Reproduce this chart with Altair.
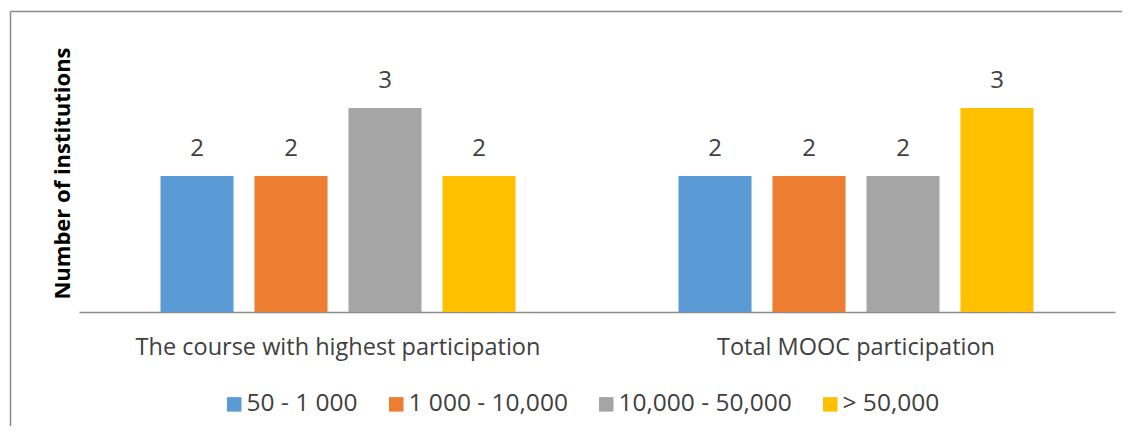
import altair as alt
import pandas as pd

categories = ["The course with highest participation", "Total MOOC participation"]
series = ["50 - 1 000", "1 000 - 10,000", "10,000 - 50,000", "> 50,000"]
values_course = [2, 2, 3, 2]
values_total = [2, 2, 2, 3]
colors = ["#5B9BD5", "#ED7D31", "#A5A5A5", "#FFC000"]

rows = []
for cat, vals in zip(categories, [values_course, values_total]):
    for s, v in zip(series, vals):
        rows.append({"category": cat, "series": s, "value": v})
df = pd.DataFrame(rows)

FONT = "Open Sans"
W, H = 1114, 418

x_enc = alt.X(
    "category:N",
    sort=categories,
    scale=alt.Scale(range=[71, 1107], paddingInner=0, paddingOuter=0),
    axis=alt.Axis(
        title=None,
        orient="bottom",
        offset=-114,
        labelAngle=0,
        labelFont=FONT,
        labelFontSize=23.5,
        labelColor="#404040",
        labelPadding=23,
        labelLimit=0,
        ticks=False,
        domainColor="#8c8c8c",
        domainWidth=1.5,
        grid=False,
    ),
)
xoff_enc = alt.XOffset(
    "series:N",
    sort=series,
    scale=alt.Scale(paddingInner=0.223, paddingOuter=0.867),
)
y_enc = alt.Y(
    "value:Q",
    scale=alt.Scale(domain=[0, 3], range=[304, 100], nice=False, zero=True),
    axis=alt.Axis(
        title="Number of institutions",
        labels=False,
        ticks=False,
        domain=False,
        grid=False,
        titleFont=FONT,
        titleFontSize=22,
        titleFontWeight="bold",
        titleColor="#000000",
        titleAngle=270,
        titleAlign="center",
        titleBaseline="middle",
        titleX=54,
        titleY=165,
    ),
)
color_enc = alt.Color(
    "series:N",
    sort=series,
    scale=alt.Scale(domain=series, range=colors),
    legend=alt.Legend(
        title=None,
        orient="none",
        legendX=214,
        legendY=384,
        direction="horizontal",
        columns=4,
        symbolType="square",
        symbolSize=210,
        symbolStrokeWidth=0,
        labelFont=FONT,
        labelFontSize=24.5,
        labelColor="#404040",
        labelOffset=0,
        labelLimit=0,
        columnPadding=26,
    ),
)

bars = alt.Chart(df).mark_bar(stroke=None).encode(
    x=x_enc, xOffset=xoff_enc, y=y_enc, color=color_enc
)
labels = alt.Chart(df).mark_text(
    dy=-27, font=FONT, fontSize=24, color="#404040", baseline="middle"
).encode(
    x=alt.X("category:N", sort=categories),
    xOffset=alt.XOffset("series:N", sort=series),
    y="value:Q",
    text="value:Q",
)

frame_df = pd.DataFrame({"k": [0]})
frame_top = alt.Chart(frame_df).mark_rule(color="#8c8c8c", strokeWidth=1.5).encode(
    x=alt.value(2.5), x2=alt.value(W), y=alt.value(3.5)
)
frame_left = alt.Chart(frame_df).mark_rule(color="#8c8c8c", strokeWidth=1.5).encode(
    x=alt.value(2.5), y=alt.value(3.5), y2=alt.value(H)
)

chart = (
    alt.layer(bars, labels, frame_top, frame_left)
    .properties(
        width=W,
        height=H,
        autosize=alt.AutoSizeParams(type="none"),
        padding=0,
        background="#ffffff",
    )
    .configure_view(stroke=None)
)

chart.save("out.html", embed_options={"renderer": "svg", "actions": False})
